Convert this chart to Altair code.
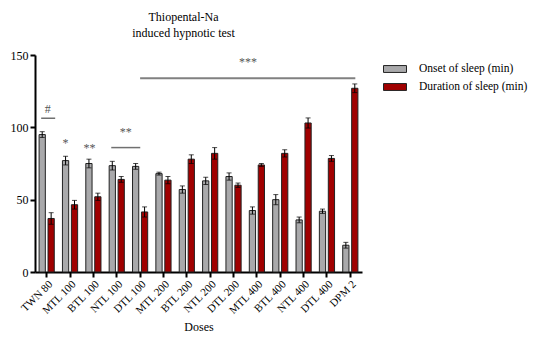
import altair as alt
import pandas as pd

doses = ["TWN 80", "MTL 100", "BTL 100", "NTL 100", "DTL 100", "MTL 200", "BTL 200",
         "NTL 200", "DTL 200", "MTL 400", "BTL 400", "NTL 400", "DTL 400", "DPM 2"]
series = ["Onset of sleep (min)", "Duration of sleep (min)"]
onset_mean = [95, 77, 75, 73.5, 73, 68, 57, 63, 66, 42.5, 50, 36, 42, 18.5]
onset_err = [2, 3, 3, 3, 2, 1, 2.5, 2.5, 2.5, 2.5, 3.5, 2, 1.5, 2]
duration_mean = [37, 46.5, 52, 64, 41.5, 63.5, 78, 82, 60, 74, 82, 103, 78.5, 127]
duration_err = [4, 3, 2.5, 2, 3.5, 2.5, 3, 4, 1.5, 1, 2.5, 3.5, 2, 3]
colors = ["#a9a9ab", "#a00000"]

rows = []
for i, d in enumerate(doses):
    for s, m, e in ((series[0], onset_mean, onset_err), (series[1], duration_mean, duration_err)):
        rows.append({"dose": d, "series": s, "mean": m[i], "lo": m[i] - e[i], "hi": m[i] + e[i]})
df = pd.DataFrame(rows)

FONT = "Liberation Serif"

xscale = alt.Scale(domain=doses, paddingInner=0.35, paddingOuter=0.175)
xenc = alt.X("dose:N", sort=doses, scale=xscale,
             axis=alt.Axis(title="Doses", labelAngle=-45, labelFontSize=11, titleFontSize=12,
                           titleFontWeight="normal", tickSize=5, tickWidth=2, domainWidth=2,
                           labelPadding=1, titlePadding=6))
xoff = alt.XOffset("series:N", sort=series,
                   scale=alt.Scale(domain=series, paddingInner=0.3, paddingOuter=0))

bars = alt.Chart(df).mark_bar(stroke="#222222", strokeWidth=1).encode(
    x=xenc,
    xOffset=xoff,
    y=alt.Y("mean:Q", scale=alt.Scale(domain=[0, 150], nice=False),
            axis=alt.Axis(title=None, values=[0, 50, 100, 150], labelFontSize=12, tickSize=5,
                          tickWidth=2, domainWidth=2, grid=False, labelPadding=2)),
    color=alt.Color("series:N", sort=series,
                    scale=alt.Scale(domain=series, range=colors),
                    legend=alt.Legend(title=None, orient="none", legendX=348, legendY=2,
                                      symbolType="M-1,-0.3L1,-0.3L1,0.3L-1,0.3Z", symbolSize=529,
                                      symbolStrokeColor="#222222", symbolStrokeWidth=1,
                                      symbolOpacity=1,
                                      labelFont=FONT, labelFontSize=11.5, labelOffset=12,
                                      labelLimit=200, rowPadding=0, padding=0)),
)

err = alt.Chart(df).mark_rule(color="black", strokeWidth=1).encode(
    x=alt.X("dose:N", sort=doses, scale=xscale), xOffset=xoff,
    y=alt.Y("lo:Q"), y2="hi:Q")
cap_lo = alt.Chart(df).mark_tick(color="black", thickness=1, size=5).encode(
    x=alt.X("dose:N", sort=doses, scale=xscale), xOffset=xoff, y="lo:Q")
cap_hi = alt.Chart(df).mark_tick(color="black", thickness=1, size=5).encode(
    x=alt.X("dose:N", sort=doses, scale=xscale), xOffset=xoff, y="hi:Q")

# significance annotations
ann_label = ["#", "*", "**", "**", "***"]
ann_dose = ["TWN 80", "MTL 100", "BTL 100", "NTL 100", "MTL 400"]
ann_y = [112.5, 89, 86, 97, 145]
ann_dx = [1, -4.5, -4, 9, -9]

ann_layers = []
for lab, d, yv, dx in zip(ann_label, ann_dose, ann_y, ann_dx):
    ann_layers.append(
        alt.Chart(pd.DataFrame({"dose": [d], "y": [yv], "label": [lab]}))
        .mark_text(font=FONT, fontSize=12, color="#555555", dx=dx, baseline="middle")
        .encode(x=alt.X("dose:N", sort=doses, scale=xscale), y="y:Q", text="label:N"))

line_dose = ["TWN 80", "NTL 100"]
line_y = [106.3, 86]
line_size = [14, 29]
line_dx = [1.5, 9]
line_layers = []
for d, yv, sz, dx in zip(line_dose, line_y, line_size, line_dx):
    line_layers.append(
        alt.Chart(pd.DataFrame({"dose": [d], "y": [yv]}))
        .mark_tick(color="#333333", thickness=1.5, size=sz, xOffset=dx)
        .encode(x=alt.X("dose:N", sort=doses, scale=xscale), y="y:Q"))

long_line = alt.Chart(pd.DataFrame({"dose": ["DTL 100"], "dose2": ["DPM 2"], "y": [134]})).mark_rule(
    color="#808080", strokeWidth=2, x2Offset=5).encode(
    x=alt.X("dose:N", sort=doses, scale=xscale), x2="dose2:N", y="y:Q")

chart = alt.layer(bars, err, cap_lo, cap_hi, long_line, *line_layers, *ann_layers).properties(
    width=327, height=217,
    autosize=alt.AutoSizeParams(type="none"),
    padding={"left": 27, "top": 47, "right": 168, "bottom": 62},
    title=alt.TitleParams(["Thiopental-Na", "induced hypnotic test"], font=FONT, fontSize=12,
                          fontWeight="normal", anchor="middle", dx=-15, offset=9, lineHeight=16,
                          color="black"),
).configure_view(stroke=None).configure_axis(
    labelFont=FONT, titleFont=FONT, labelColor="black", titleColor="black",
    domainColor="black", tickColor="black", grid=False
).configure_legend(labelFont=FONT, labelColor="black")

chart.save("out.html", embed_options={"renderer": "svg", "actions": False})
